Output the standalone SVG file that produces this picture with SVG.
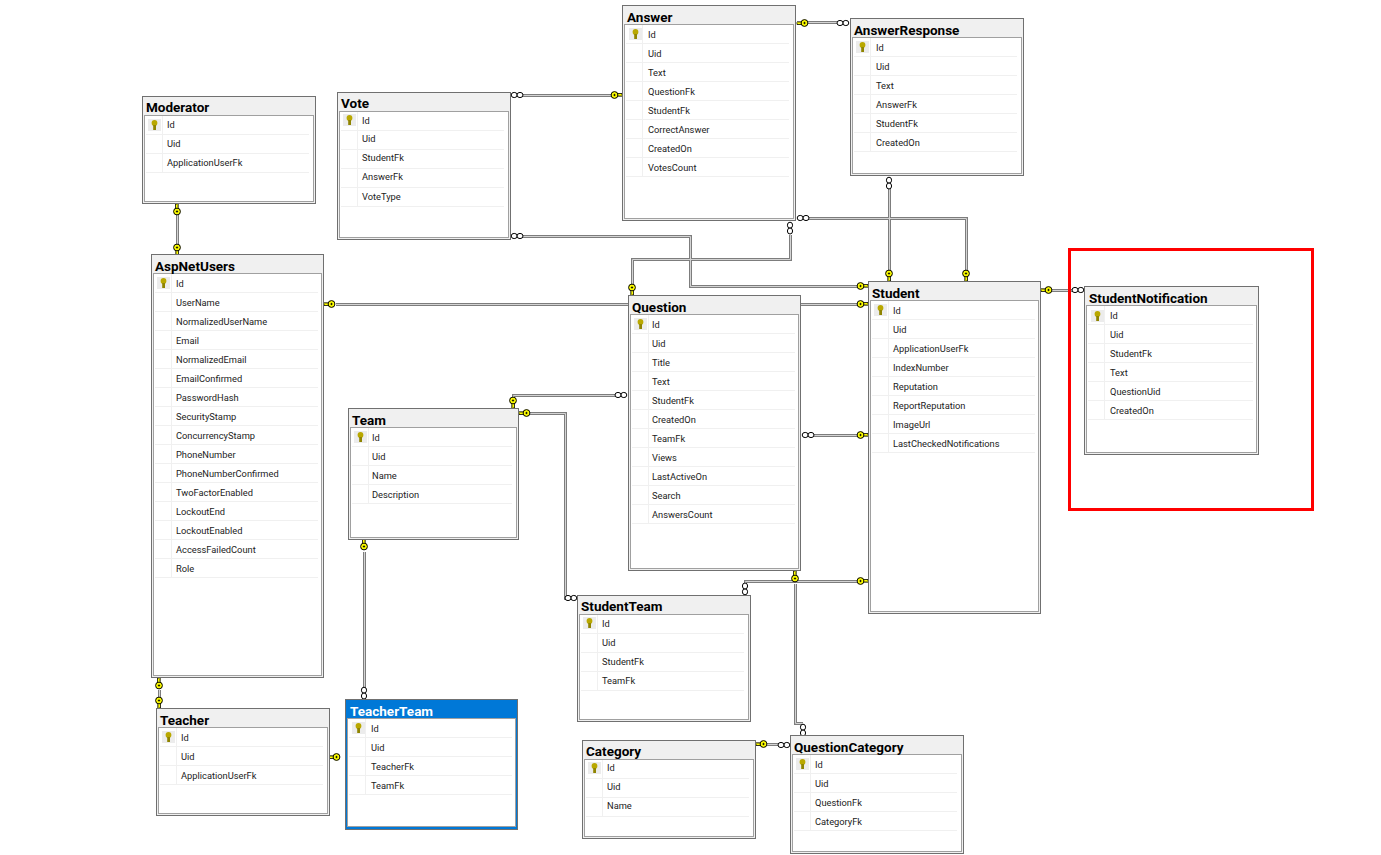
<svg xmlns="http://www.w3.org/2000/svg" width="1381" height="855" viewBox="0 0 1381 855">
<style>
text{font-family:Roboto,"Liberation Sans",sans-serif}
.o{fill:#f0f0f0;stroke:#707070}
.i{fill:#fff;stroke:#a0a0a0}
.s{fill:none;stroke:#f0f0f0}
.t{font-size:13.5px;font-weight:700;fill:#000}
.r{font-size:9.3px;fill:#222;transform:translateY(1px)}
.c1{fill:none;stroke:#7d7d7d;stroke-width:3}
.c2{fill:none;stroke:#d4d4d4;stroke-width:1}
.sel .o{fill:#0078d7}
.sel .t{fill:#fff}
</style>
<defs>
<g id="pk"><rect x="-6" y="-6" width="13" height="12" fill="#ececec"/><circle cx=".5" cy="-2" r="2.9" fill="#b9a800"/><rect x="-.8" y="0" width="2.800" height="5" fill="#8f8400"/></g>
<g id="key"><path d="M-5 -1.500H0V.5L-1 1.800L-2 .5L-3 1.800L-4 .5L-5 1.500Z" fill="#ffff00" stroke="#000" stroke-width=".8"/><circle cx="-7.500" cy="0" r="3.400" fill="#ffff00" stroke="#000"/><path d="M-8.700 0H-6.300M-7.500 -1.200V1.200" stroke="#000" stroke-width=".8" fill="none"/></g>
<g id="oo"><ellipse cx="3.200" cy="0" rx="3" ry="2.600" fill="#fff" stroke="#000"/><ellipse cx="9" cy="0" rx="3" ry="2.600" fill="#fff" stroke="#000"/></g>
<path id="p1" d="M808 22.500H837"/>
<path id="p2" d="M522 95.500H612"/>
<path id="p3" d="M522 236.500H690.500V286.500H858"/>
<path id="p4" d="M790.500 235V259.500H632.500V285"/>
<path id="p5" d="M808 218.500H966.500V271"/>
<path id="p6" d="M889.500 188V271"/>
<path id="p7" d="M177.500 212V245"/>
<path id="p8" d="M336 304.500H628"/>
<path id="p9" d="M801 304.500H858"/>
<path id="p10" d="M814 435.500H858"/>
<path id="p11" d="M745.500 583V581.500H858"/>
<path id="p12" d="M795.500 584V723.500H803"/>
<path id="p13" d="M767 744.500H779"/>
<path id="p14" d="M513.500 397V395.500H615"/>
<path id="p15" d="M530 413.500H565.500V598.500H567"/>
<path id="p16" d="M364.500 552V688"/>
<path id="p17" d="M159.500 690V698"/>
<path id="p18" d="M1052 290.500H1073"/>
</defs>

<g id="connectors">
<g class="c1"><use href="#p1"/><use href="#p2"/><use href="#p3"/><use href="#p4"/><use href="#p5"/><use href="#p6"/><use href="#p7"/><use href="#p8"/><use href="#p9"/><use href="#p10"/><use href="#p11"/><use href="#p12"/><use href="#p13"/><use href="#p14"/><use href="#p15"/><use href="#p16"/><use href="#p17"/><use href="#p18"/></g>
<g class="c2"><use href="#p1"/><use href="#p2"/><use href="#p3"/><use href="#p4"/><use href="#p5"/><use href="#p6"/><use href="#p7"/><use href="#p8"/><use href="#p9"/><use href="#p10"/><use href="#p11"/><use href="#p12"/><use href="#p13"/><use href="#p14"/><use href="#p15"/><use href="#p16"/><use href="#p17"/><use href="#p18"/></g>
<g id="ends">
<use href="#key" transform="translate(797,23) rotate(180)"/><use href="#oo" transform="translate(849,23) rotate(180)"/>
<use href="#oo" transform="translate(511,95)"/><use href="#key" transform="translate(622,95)"/>
<use href="#oo" transform="translate(511,236)"/><use href="#key" transform="translate(868,286)"/>
<use href="#oo" transform="translate(790,222) rotate(90)"/><use href="#key" transform="translate(632,295) rotate(90)"/>
<use href="#oo" transform="translate(797,218)"/><use href="#key" transform="translate(966,281) rotate(90)"/>
<use href="#oo" transform="translate(889,177) rotate(90)"/><use href="#key" transform="translate(889,281) rotate(90)"/>
<use href="#key" transform="translate(177,204) rotate(-90)"/><use href="#key" transform="translate(177,255) rotate(90)"/>
<use href="#key" transform="translate(324,304) rotate(180)"/>
<use href="#key" transform="translate(868,304)"/>
<use href="#oo" transform="translate(802,435)"/><use href="#key" transform="translate(868,435)"/>
<use href="#oo" transform="translate(745,595) rotate(-90)"/><use href="#key" transform="translate(868,581)"/>
<use href="#key" transform="translate(795,571) rotate(-90)"/><use href="#oo" transform="translate(803,724) rotate(90)"/>
<use href="#key" transform="translate(756,744) rotate(180)"/><use href="#oo" transform="translate(790,745) rotate(180)"/>
<use href="#key" transform="translate(513,408) rotate(90)"/><use href="#oo" transform="translate(627,395) rotate(180)"/>
<use href="#key" transform="translate(519,413) rotate(180)"/><use href="#oo" transform="translate(577,598) rotate(180)"/>
<use href="#key" transform="translate(364,539) rotate(-90)"/><use href="#oo" transform="translate(364,687) rotate(90)"/>
<use href="#key" transform="translate(159,678) rotate(-90)"/><use href="#key" transform="translate(159,708) rotate(90)"/>
<use href="#key" transform="translate(329,757) rotate(180)"/>
<use href="#key" transform="translate(1041,290) rotate(180)"/><use href="#oo" transform="translate(1084,290) rotate(180)"/>
</g>
</g>

<g id="Moderator" transform="translate(142,96)"><rect class="o" x=".5" y=".5" width="173" height="107"/><rect class="i" x="2.500" y="19.500" width="169" height="86"/><text class="t" x="4" y="16">Moderator</text><path class="s" d="M4 38.500H167M4 57.500H167M4 76.500H167M20.500 20V76"/><use href="#pk" x="12" y="29"/><text class="r" x="25" y="31">Id</text><text class="r" x="25" y="50">Uid</text><text class="r" x="25" y="69">ApplicationUserFk</text></g>

<g id="Vote" transform="translate(337,92)"><rect class="o" x=".5" y=".5" width="173" height="147"/><rect class="i" x="2.500" y="19.500" width="169" height="126"/><text class="t" x="4" y="16">Vote</text><path class="s" d="M4 38.500H167M4 57.500H167M4 76.500H167M4 95.500H167M4 114.500H167M20.500 20V114"/><use href="#pk" x="12" y="28"/><text class="r" x="25" y="31">Id</text><text class="r" x="25" y="49">Uid</text><text class="r" x="25" y="68">StudentFk</text><text class="r" x="25" y="87">AnswerFk</text><text class="r" x="25" y="107">VoteType</text></g>

<g id="Answer" transform="translate(622,5)"><rect class="o" x=".5" y=".5" width="173" height="215"/><rect class="i" x="2.500" y="19.500" width="169" height="194"/><text class="t" x="5" y="17">Answer</text><path class="s" d="M4 38.500H167M4 57.500H167M4 76.500H167M4 95.500H167M4 114.500H167M4 133.500H167M4 152.500H167M4 171.500H167M20.500 20V171"/><use href="#pk" x="13" y="29"/><text class="r" x="26" y="32">Id</text><text class="r" x="26" y="51">Uid</text><text class="r" x="26" y="70">Text</text><text class="r" x="26" y="89">QuestionFk</text><text class="r" x="26" y="108">StudentFk</text><text class="r" x="26" y="127">CorrectAnswer</text><text class="r" x="26" y="146">CreatedOn</text><text class="r" x="26" y="165">VotesCount</text></g>

<g id="AnswerResponse" transform="translate(850,18)"><rect class="o" x=".5" y=".5" width="173" height="157"/><rect class="i" x="2.500" y="19.500" width="169" height="136"/><text class="t" x="4" y="17">AnswerResponse</text><path class="s" d="M4 38.500H167M4 57.500H167M4 76.500H167M4 95.500H167M4 114.500H167M4 133.500H167M20.500 20V133"/><use href="#pk" x="12" y="29"/><text class="r" x="26" y="32">Id</text><text class="r" x="26" y="51">Uid</text><text class="r" x="26" y="70">Text</text><text class="r" x="26" y="89">AnswerFk</text><text class="r" x="26" y="108">StudentFk</text><text class="r" x="26" y="127">CreatedOn</text></g>

<g id="AspNetUsers" transform="translate(151,254)"><rect class="o" x=".5" y=".5" width="172" height="423"/><rect class="i" x="2.500" y="19.500" width="168" height="402"/><text class="t" x="4" y="17">AspNetUsers</text><path class="s" d="M4 38.500H167M4 57.500H167M4 76.500H167M4 95.500H167M4 114.500H167M4 133.500H167M4 152.500H167M4 171.500H167M4 190.500H167M4 209.500H167M4 228.500H167M4 247.500H167M4 266.500H167M4 285.500H167M4 304.500H167M4 323.500H167M20.500 20V323"/><use href="#pk" x="12" y="29"/>
<text class="r" x="25" y="32">Id</text><text class="r" x="25" y="51">UserName</text><text class="r" x="25" y="70">NormalizedUserName</text><text class="r" x="25" y="89">Email</text><text class="r" x="25" y="108">NormalizedEmail</text><text class="r" x="25" y="127">EmailConfirmed</text><text class="r" x="25" y="146">PasswordHash</text><text class="r" x="25" y="165">SecurityStamp</text><text class="r" x="25" y="184">ConcurrencyStamp</text><text class="r" x="25" y="203">PhoneNumber</text><text class="r" x="25" y="222">PhoneNumberConfirmed</text><text class="r" x="25" y="241">TwoFactorEnabled</text><text class="r" x="25" y="260">LockoutEnd</text><text class="r" x="25" y="279">LockoutEnabled</text><text class="r" x="25" y="298">AccessFailedCount</text><text class="r" x="25" y="317">Role</text></g>

<g id="Question" transform="translate(628,295)"><rect class="o" x=".5" y=".5" width="172" height="275"/><rect class="i" x="2.500" y="19.500" width="168" height="254"/><text class="t" x="4" y="17">Question</text><path class="s" d="M4 38.500H167M4 57.500H167M4 76.500H167M4 95.500H167M4 114.500H167M4 133.500H167M4 152.500H167M4 171.500H167M4 190.500H167M4 209.500H167M4 228.500H167M20.500 20V228"/><use href="#pk" x="12" y="29"/>
<text class="r" x="24" y="32">Id</text><text class="r" x="24" y="51">Uid</text><text class="r" x="24" y="70">Title</text><text class="r" x="24" y="89">Text</text><text class="r" x="24" y="108">StudentFk</text><text class="r" x="24" y="127">CreatedOn</text><text class="r" x="24" y="146">TeamFk</text><text class="r" x="24" y="165">Views</text><text class="r" x="24" y="184">LastActiveOn</text><text class="r" x="24" y="203">Search</text><text class="r" x="24" y="222">AnswersCount</text></g>

<g id="Student" transform="translate(868,281)"><rect class="o" x=".5" y=".5" width="172" height="332"/><rect class="i" x="2.500" y="19.500" width="168" height="311"/><text class="t" x="4" y="17">Student</text><path class="s" d="M4 38.500H167M4 57.500H167M4 76.500H167M4 95.500H167M4 114.500H167M4 133.500H167M4 152.500H167M4 171.500H167M20.500 20V171"/><use href="#pk" x="12" y="29"/>
<text class="r" x="25" y="32">Id</text><text class="r" x="25" y="51">Uid</text><text class="r" x="25" y="70">ApplicationUserFk</text><text class="r" x="25" y="89">IndexNumber</text><text class="r" x="25" y="108">Reputation</text><text class="r" x="25" y="127">ReportReputation</text><text class="r" x="25" y="146">ImageUrl</text><text class="r" x="25" y="165">LastCheckedNotifications</text></g>

<g id="StudentNotification" transform="translate(1084,286)"><rect class="o" x=".5" y=".5" width="174" height="168"/><rect class="i" x="2.500" y="19.500" width="170" height="147"/><text class="t" x="5" y="17">StudentNotification</text><path class="s" d="M4 38.500H169M4 57.500H169M4 76.500H169M4 95.500H169M4 114.500H169M4 133.500H169M20.500 20V133"/><use href="#pk" x="13" y="30"/>
<text class="r" x="26" y="32">Id</text><text class="r" x="26" y="51">Uid</text><text class="r" x="26" y="70">StudentFk</text><text class="r" x="26" y="89">Text</text><text class="r" x="26" y="108">QuestionUid</text><text class="r" x="26" y="127">CreatedOn</text></g>

<g id="Team" transform="translate(348,408)"><rect class="o" x=".5" y=".5" width="170" height="131"/><rect class="i" x="2.500" y="19.500" width="166" height="110"/><text class="t" x="4" y="17">Team</text><path class="s" d="M4 38.500H164M4 57.500H164M4 76.500H164M4 95.500H164M20.500 20V95"/><use href="#pk" x="12" y="29"/><text class="r" x="24" y="32">Id</text><text class="r" x="24" y="51">Uid</text><text class="r" x="24" y="70">Name</text><text class="r" x="24" y="89">Description</text></g>

<g id="StudentTeam" transform="translate(577,595)"><rect class="o" x=".5" y=".5" width="173" height="126"/><rect class="i" x="2.500" y="19.500" width="169" height="105"/><text class="t" x="4" y="16">StudentTeam</text><path class="s" d="M4 38.500H167M4 57.500H167M4 76.500H167M4 95.500H167M20.500 20V95"/><use href="#pk" x="12" y="28"/><text class="r" x="25" y="31">Id</text><text class="r" x="25" y="50">Uid</text><text class="r" x="25" y="69">StudentFk</text><text class="r" x="25" y="88">TeamFk</text></g>

<g id="Teacher" transform="translate(156,708)"><rect class="o" x=".5" y=".5" width="173" height="107"/><rect class="i" x="2.500" y="19.500" width="169" height="86"/><text class="t" x="4" y="17">Teacher</text><path class="s" d="M4 38.500H167M4 57.500H167M4 76.500H167M20.500 20V76"/><use href="#pk" x="12" y="29"/><text class="r" x="25" y="32">Id</text><text class="r" x="25" y="51">Uid</text><text class="r" x="25" y="70">ApplicationUserFk</text></g>

<g id="TeacherTeam" class="sel" transform="translate(345,699)"><rect class="o" x=".5" y=".5" width="172" height="130"/><rect class="i" x="2.500" y="19.500" width="168" height="108"/><text class="t" x="5" y="17">TeacherTeam</text><path class="s" d="M4 38.500H167M4 57.500H167M4 76.500H167M4 95.500H167M20.500 20V95"/><use href="#pk" x="13" y="29"/><text class="r" x="26" y="32">Id</text><text class="r" x="26" y="51">Uid</text><text class="r" x="26" y="70">TeacherFk</text><text class="r" x="26" y="89">TeamFk</text></g>

<g id="Category" transform="translate(582,740)"><rect class="o" x=".5" y=".5" width="173" height="98"/><rect class="i" x="2.500" y="19.500" width="169" height="77"/><text class="t" x="4" y="16">Category</text><path class="s" d="M4 38.500H167M4 57.500H167M4 76.500H167M20.500 20V76"/><use href="#pk" x="12" y="28"/><text class="r" x="25" y="30">Id</text><text class="r" x="25" y="49">Uid</text><text class="r" x="25" y="68">Name</text></g>

<g id="QuestionCategory" transform="translate(790,735)"><rect class="o" x=".5" y=".5" width="173" height="118"/><rect class="i" x="2.500" y="19.500" width="169" height="97"/><text class="t" x="4" y="17">QuestionCategory</text><path class="s" d="M4 38.500H167M4 57.500H167M4 76.500H167M4 95.500H167M20.500 20V95"/><use href="#pk" x="12" y="29"/><text class="r" x="25" y="32">Id</text><text class="r" x="25" y="51">Uid</text><text class="r" x="25" y="70">QuestionFk</text><text class="r" x="25" y="89">CategoryFk</text></g>

<rect id="highlight" x="1069.500" y="249.500" width="243" height="260" fill="none" stroke="#ff0000" stroke-width="3"/>
</svg>
